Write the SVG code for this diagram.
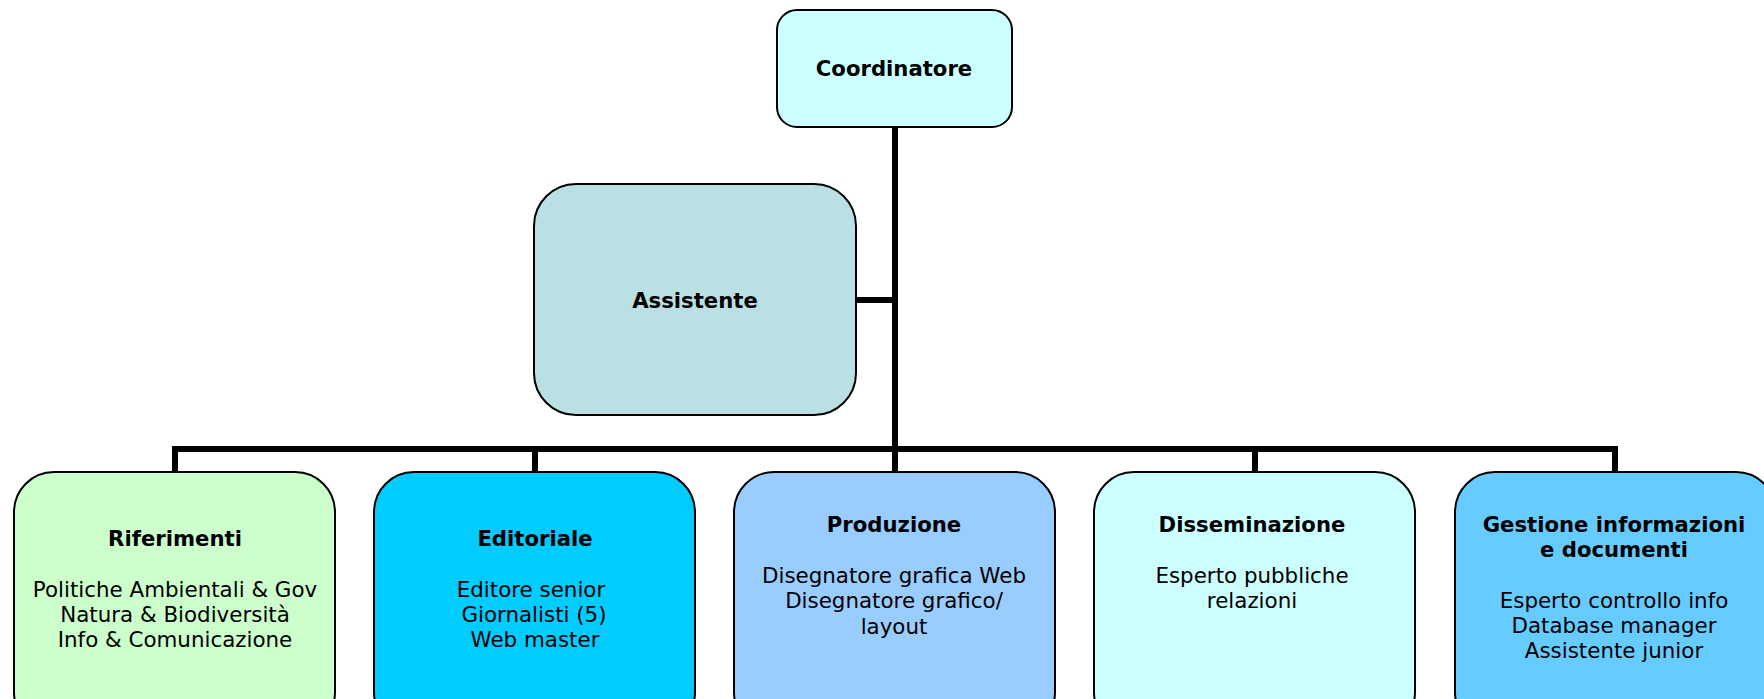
<svg xmlns="http://www.w3.org/2000/svg" width="1764" height="699" viewBox="0 0 1764 699">
<style>
.box{stroke:#000;stroke-width:2}
.conn{stroke:#000;stroke-width:6;fill:none;stroke-linecap:butt}
text{font-family:"DejaVu Sans",Verdana,sans-serif;font-size:21.4px;fill:#000;text-anchor:middle}
.t{font-weight:bold;font-size:21.2px}
</style>
<rect width="1764" height="699" fill="#fff"/>
<g id="connectors">
<path class="conn" d="M895 127V452"/>
<path class="conn" d="M856 300H895"/>
<path class="conn" d="M172 449H1618"/>
<path class="conn" d="M175 446V473M535 446V473M895 446V473M1255 446V473M1615 446V473"/>
</g>
<g id="coordinatore">
<rect class="box" x="777" y="10" width="235" height="117" rx="20" fill="#CCFFFF"/>
<text class="t" x="894" y="76">Coordinatore</text>
</g>
<g id="assistente">
<rect class="box" x="534" y="184" width="322" height="231" rx="42" fill="#BBE0E3"/>
<text class="t" x="695" y="308">Assistente</text>
</g>
<g id="riferimenti">
<rect class="box" x="14" y="472" width="321" height="260" rx="40" fill="#CCFFCC"/>
<text class="t" x="175" y="546">Riferimenti</text>
<text x="175" y="597">Politiche Ambientali &amp; Gov</text>
<text x="175" y="622">Natura &amp; Biodiversità</text>
<text x="175" y="647">Info &amp; Comunicazione</text>
</g>
<g id="editoriale">
<rect class="box" x="374" y="472" width="321" height="260" rx="40" fill="#00CCFF"/>
<text class="t" x="535" y="546">Editoriale</text>
<text x="531" y="597">Editore senior</text>
<text x="534" y="622">Giornalisti (5)</text>
<text x="535" y="647">Web master</text>
</g>
<g id="produzione">
<rect class="box" x="734" y="472" width="321" height="260" rx="40" fill="#99CCFF"/>
<text class="t" x="894" y="532">Produzione</text>
<text x="894" y="583">Disegnatore grafica Web</text>
<text x="894" y="608">Disegnatore grafico/</text>
<text x="894" y="634">layout</text>
</g>
<g id="disseminazione">
<rect class="box" x="1094" y="472" width="321" height="260" rx="40" fill="#CCFFFF"/>
<text class="t" x="1252" y="532">Disseminazione</text>
<text x="1252" y="583">Esperto pubbliche</text>
<text x="1252" y="608">relazioni</text>
</g>
<g id="gestione">
<rect class="box" x="1455" y="472" width="321" height="260" rx="40" fill="#66CCFF"/>
<text class="t" x="1614" y="532">Gestione informazioni</text>
<text class="t" x="1614" y="557">e documenti</text>
<text x="1614" y="608">Esperto controllo info</text>
<text x="1614" y="633">Database manager</text>
<text x="1614" y="658">Assistente junior</text>
</g>
</svg>
